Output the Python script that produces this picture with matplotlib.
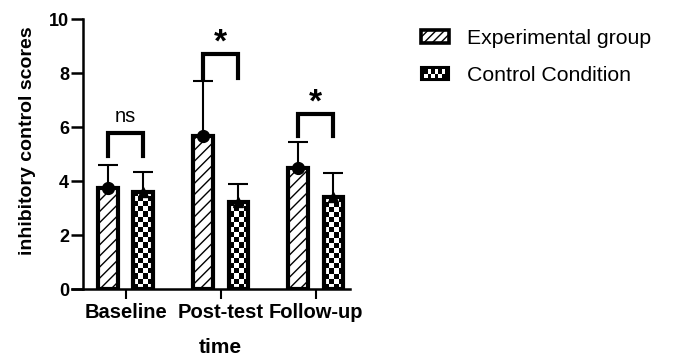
import numpy as np
import matplotlib
matplotlib.use('Agg')
import matplotlib.pyplot as plt
from matplotlib.patches import Patch, Rectangle
from matplotlib.legend_handler import HandlerBase

plt.rcParams['font.family'] = ['Liberation Sans', 'DejaVu Sans']
plt.rcParams['hatch.linewidth'] = 1.0

# data
categories = ['Baseline', 'Post-test', 'Follow-up']
exp_mean = [3.74, 5.68, 4.50]
exp_err = [0.86, 2.02, 0.94]
ctrl_mean = [3.60, 3.23, 3.40]
ctrl_err = [0.73, 0.66, 0.90]
series_labels = ['Experimental group', 'Control Condition']

# significance brackets: label, top of bracket, bottom of arms
sig_labels = ['ns', '*', '*']
sig_top = [5.78, 8.72, 6.50]
sig_low = [4.93, 7.82, 5.65]

x = np.arange(len(categories))
offset = 0.187
width = 0.21

fig = plt.figure(figsize=(6.77, 3.56), dpi=100)
ax = fig.add_axes([0.1064, 0.1882, 0.4106, 0.7584])

x_exp = x - offset
x_ctrl = x + offset

exp_bars = ax.bar(x_exp, exp_mean, width, facecolor='white', edgecolor='black',
                  linewidth=3, hatch='///', zorder=3)
ctrl_bars = ax.bar(x_ctrl, ctrl_mean, width, facecolor='none', edgecolor='black',
                   linewidth=3, zorder=3)

# checkerboard fill for control bars (clipped image)
cell_y = 0.19
for b in ctrl_bars:
    x0 = b.get_x()
    h = b.get_height()
    nrows = int(np.ceil(h / cell_y))
    ncols = 4
    board = (np.add.outer(np.arange(nrows), np.arange(ncols)) % 2).astype(float)
    im = ax.imshow(board, cmap='gray', interpolation='nearest', aspect='auto',
                   origin='lower', extent=(x0, x0 + width, 0, nrows * cell_y),
                   vmin=0, vmax=1, zorder=2)
    im.set_clip_path(b)

ax.errorbar(x_exp, exp_mean, yerr=[np.zeros(3), exp_err], fmt='none', ecolor='black',
            elinewidth=1.5, capsize=7, capthick=1.5, zorder=4)
ax.errorbar(x_ctrl, ctrl_mean, yerr=[np.zeros(3), ctrl_err], fmt='none', ecolor='black',
            elinewidth=1.5, capsize=7, capthick=1.5, zorder=4)
ax.plot(x_exp, exp_mean, 'o', color='black', ms=8.5, zorder=5)
ax.plot(x_ctrl, ctrl_mean, '^', color='black', ms=7, zorder=5)

# brackets
for i in range(len(categories)):
    ax.plot([x_exp[i], x_exp[i], x_ctrl[i], x_ctrl[i]],
            [sig_low[i], sig_top[i], sig_top[i], sig_low[i]],
            color='black', lw=3, solid_joinstyle='miter', zorder=4, clip_on=False)
    if sig_labels[i] == 'ns':
        ax.text(x[i], sig_top[i] + 0.25, sig_labels[i], ha='center', va='bottom',
                fontsize=14.5)
    else:
        ax.text(x[i], sig_top[i] - 0.2, sig_labels[i], ha='center', va='bottom',
                fontsize=24, fontweight='bold')

ax.set_xlim(-0.565, 2.361)
ax.set_ylim(0, 10)
ax.spines['left'].set_position(('data', -0.449))
ax.spines['top'].set_visible(False)
ax.spines['right'].set_visible(False)
ax.spines['left'].set_linewidth(1.8)
ax.spines['bottom'].set_linewidth(1.8)

ax.set_xticks(x)
ax.set_xticklabels(categories, fontsize=14.5, fontweight='bold')
ax.set_yticks(np.arange(0, 11, 2))
ax.set_yticklabels([str(v) for v in range(0, 11, 2)], fontsize=13, fontweight='bold')
ax.tick_params(axis='x', length=7, width=1.5, pad=3)
ax.tick_params(axis='y', length=9, width=1.8, pad=1)

ax.set_ylabel('inhibitory control scores', fontsize=14, fontweight='bold')
ax.yaxis.set_label_coords(-0.13, 0.55)
ax.set_xlabel('time', fontsize=15, fontweight='bold')
ax.xaxis.set_label_coords(0.534, -0.18)


class HandlerChecker(HandlerBase):
    def create_artists(self, legend, orig_handle, xdescent, ydescent, width, height,
                       fontsize, trans):
        arts = [Rectangle((-xdescent, -ydescent), width, height, facecolor='black',
                          edgecolor='black', lw=1.5, transform=trans)]
        nc, nr = 6, 2
        cw = width / (nc + 2)
        ch = height / (nr + 1)
        for r in range(nr):
            for c in range(nc):
                if (r + c) % 2 == 0:
                    arts.append(Rectangle((-xdescent + cw * (c + 1), -ydescent + ch * (r + 0.5)),
                                          cw, ch, facecolor='white', lw=0,
                                          transform=trans))
        return arts


h_exp = Patch(facecolor='white', edgecolor='black', hatch='////', lw=2.6)
h_ctrl = Patch(facecolor='black')
leg = fig.legend([h_exp, h_ctrl], series_labels, loc='upper left',
                 bbox_to_anchor=(421 / 677, 1 - 29 / 356), frameon=False,
                 fontsize=15.3, handlelength=1.3, handleheight=0.55,
                 handletextpad=0.85, labelspacing=0.85, borderpad=0, borderaxespad=0,
                 handler_map={h_ctrl: HandlerChecker()})

fig.savefig('out.png', dpi=100)
